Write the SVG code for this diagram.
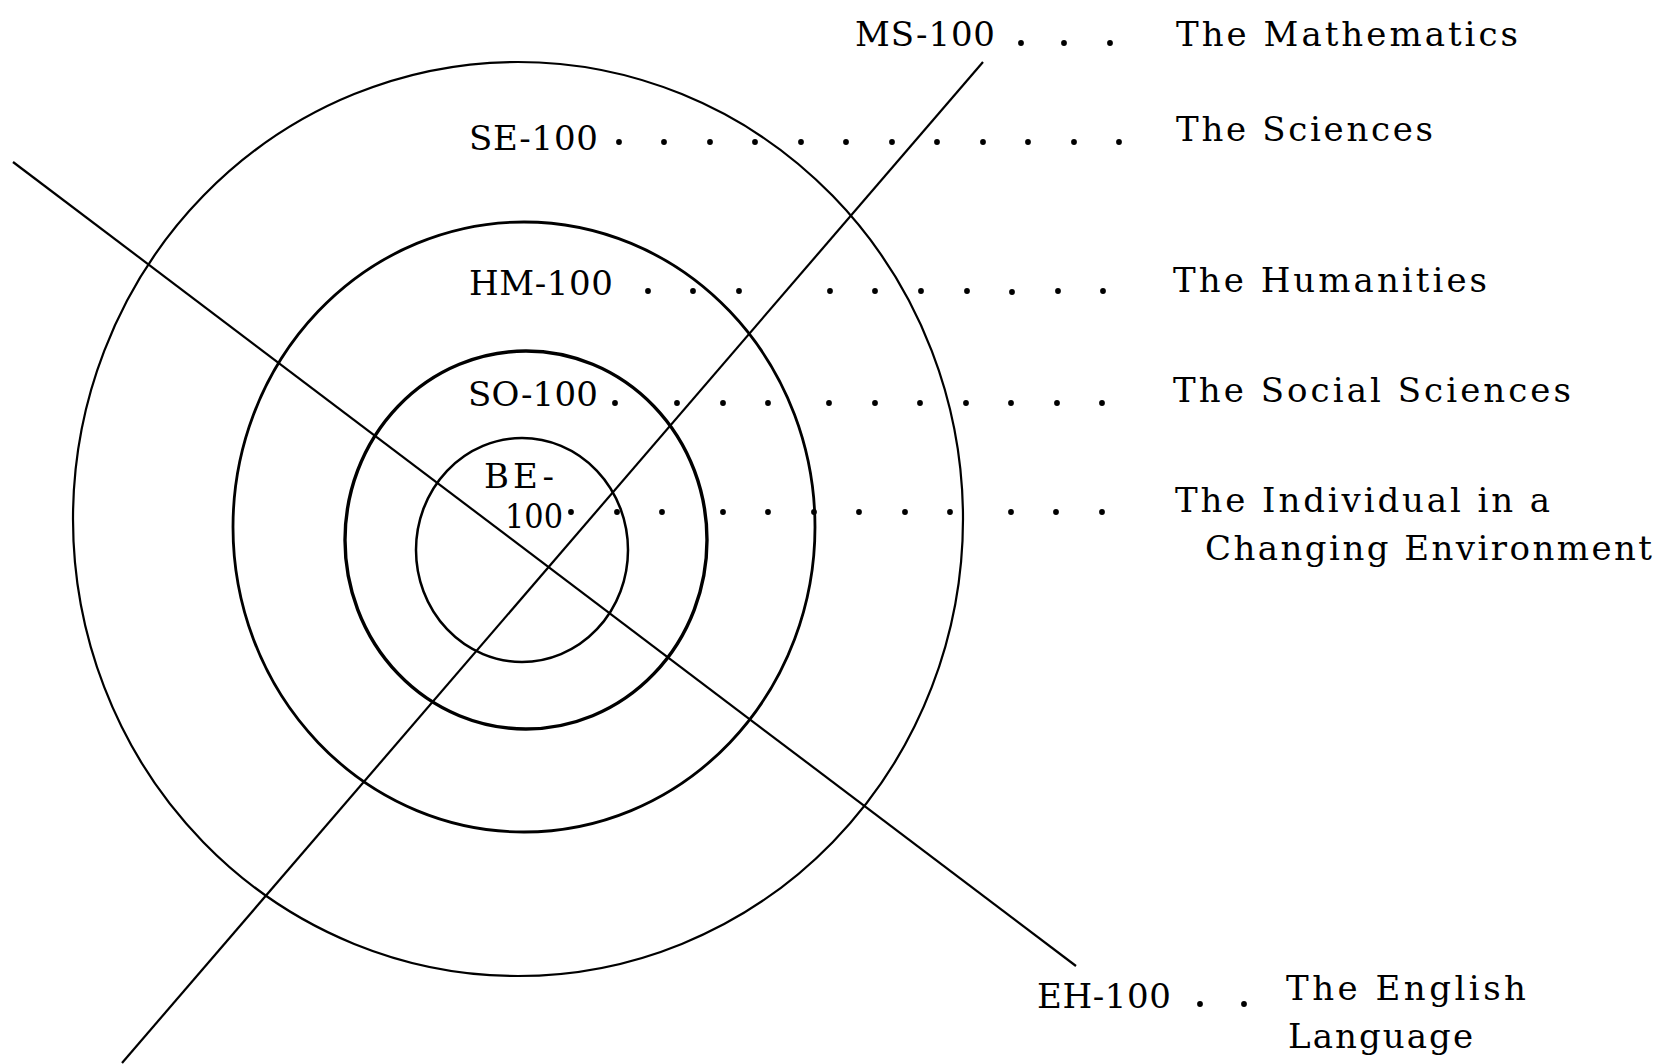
<svg xmlns="http://www.w3.org/2000/svg" width="1662" height="1064" viewBox="0 0 1662 1064">
<style>
.ring{fill:none;stroke:#000}
.axis{fill:none;stroke:#000;stroke-width:2.2}
.dot{fill:#000}
text{font-family:"DejaVu Serif","Liberation Serif",serif;font-size:34px;fill:#000}
</style>
<defs><circle id="d" r="2.9" class="dot"/></defs>
<rect width="1662" height="1064" fill="#fff"/>
<g id="ring-SE">
<ellipse class="ring" cx="518" cy="519" rx="445" ry="457" stroke-width="2.2"/>
<text x="469" y="150" textLength="129" lengthAdjust="spacing">SE-100</text>
<text x="1176" y="141" textLength="257" lengthAdjust="spacing">The Sciences</text>
</g>
<g id="ring-HM">
<ellipse class="ring" cx="524" cy="527" rx="291" ry="305" stroke-width="2.8"/>
<text x="469" y="295" textLength="144" lengthAdjust="spacing">HM-100</text>
<text x="1173" y="292" textLength="314" lengthAdjust="spacing">The Humanities</text>
</g>
<g id="ring-SO">
<ellipse class="ring" cx="526" cy="540" rx="181" ry="189" stroke-width="3.4"/>
<text x="468" y="406" textLength="130" lengthAdjust="spacing">SO-100</text>
<text x="1173" y="402" textLength="398" lengthAdjust="spacing">The Social Sciences</text>
</g>
<g id="ring-BE">
<ellipse class="ring" cx="522" cy="550" rx="106" ry="112" stroke-width="2.5"/>
<text x="484" y="488" textLength="70" lengthAdjust="spacing">BE-</text>
<text x="505" y="528" textLength="58" lengthAdjust="spacingAndGlyphs">100</text>
<text x="1175" y="512" textLength="375" lengthAdjust="spacing">The Individual in a</text>
<text x="1205" y="560" textLength="447" lengthAdjust="spacing">Changing Environment</text>
</g>
<g id="axis-MS">
<text x="855" y="46" textLength="140" lengthAdjust="spacing">MS-100</text>
<text x="1176" y="46" textLength="342" lengthAdjust="spacing">The Mathematics</text>
</g>
<g id="axis-EH">
<text x="1037" y="1008" textLength="134" lengthAdjust="spacing">EH-100</text>
<text x="1286" y="1000" textLength="240" lengthAdjust="spacing">The English</text>
<text x="1288" y="1048" textLength="185" lengthAdjust="spacing">Language</text>
</g>
<g id="connectors">
<line class="axis" x1="983" y1="62" x2="122" y2="1063"/>
<line class="axis" x1="13" y1="162" x2="1076" y2="966"/>
<g id="leaders-MS">
<use href="#d" x="1021" y="43"/><use href="#d" x="1064" y="43"/><use href="#d" x="1110" y="43"/>
</g>
<g id="leaders-SE">
<use href="#d" x="619" y="142"/><use href="#d" x="664" y="142"/><use href="#d" x="710" y="142"/><use href="#d" x="755" y="142"/><use href="#d" x="801" y="142"/><use href="#d" x="846" y="142"/><use href="#d" x="892" y="142"/><use href="#d" x="937" y="142"/><use href="#d" x="983" y="142"/><use href="#d" x="1028" y="142"/><use href="#d" x="1074" y="142"/><use href="#d" x="1119" y="142"/>
</g>
<g id="leaders-HM">
<use href="#d" x="648" y="291"/><use href="#d" x="693" y="291"/><use href="#d" x="739" y="291"/><use href="#d" x="830" y="291"/><use href="#d" x="875" y="291"/><use href="#d" x="921" y="291"/><use href="#d" x="967" y="291"/><use href="#d" x="1012" y="292"/><use href="#d" x="1058" y="291"/><use href="#d" x="1103" y="291"/>
</g>
<g id="leaders-SO">
<use href="#d" x="615" y="403"/><use href="#d" x="677" y="403"/><use href="#d" x="723" y="403"/><use href="#d" x="768" y="403"/><use href="#d" x="829" y="403"/><use href="#d" x="875" y="403"/><use href="#d" x="920" y="403"/><use href="#d" x="966" y="403"/><use href="#d" x="1011" y="403"/><use href="#d" x="1057" y="403"/><use href="#d" x="1102" y="403"/>
</g>
<g id="leaders-BE">
<use href="#d" x="571" y="512"/><use href="#d" x="617" y="512"/><use href="#d" x="662" y="512"/><use href="#d" x="723" y="512"/><use href="#d" x="768" y="512"/><use href="#d" x="814" y="512"/><use href="#d" x="859" y="512"/><use href="#d" x="905" y="512"/><use href="#d" x="950" y="512"/><use href="#d" x="1011" y="512"/><use href="#d" x="1056" y="512"/><use href="#d" x="1102" y="512"/>
</g>
<g id="leaders-EH">
<use href="#d" x="1200" y="1004"/><use href="#d" x="1244" y="1004"/>
</g>
</g>
</svg>
